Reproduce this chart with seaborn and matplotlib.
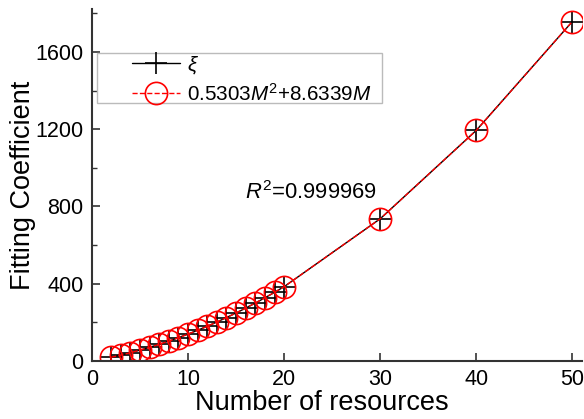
import matplotlib
matplotlib.use("Agg")
import matplotlib.pyplot as plt
import seaborn as sns
import pandas as pd
from matplotlib.ticker import MultipleLocator
from matplotlib.patches import Rectangle

# Data
resources = [2, 3, 4, 5, 6, 7, 8, 9, 10, 11, 12, 13, 14, 15, 16, 17, 18, 19, 20, 30, 40, 50]
xi_values = [19.4, 30.7, 43.0, 56.4, 70.9, 86.4, 103.0, 120.7, 139.4, 159.1, 180.0,
             201.9, 224.8, 248.8, 273.9, 300.0, 327.2, 355.5, 384.8, 736.3, 1194.0, 1757.4]
fit_values = [19.4, 30.7, 43.0, 56.4, 70.9, 86.4, 103.0, 120.7, 139.4, 159.1, 180.0,
              201.9, 224.8, 248.8, 273.9, 300.0, 327.2, 355.5, 384.8, 736.3, 1193.9, 1757.4]
xi_label = r"$\xi$"
fit_label = r"0.5303$M^2$+8.6339$M$"
r2_text = r"$R^2$=0.999969"
x_ticks = [0, 10, 20, 30, 40, 50]
y_ticks = [0, 400, 800, 1200, 1600]

sns.set_theme(style="ticks")
plt.rcParams['font.family'] = ['Liberation Sans', 'DejaVu Sans']
plt.rcParams['mathtext.fontset'] = 'custom'
plt.rcParams['mathtext.rm'] = 'Liberation Sans'
plt.rcParams['mathtext.it'] = 'Liberation Sans:italic'
plt.rcParams['text.color'] = 'black'
plt.rcParams['axes.labelcolor'] = 'black'

df = pd.DataFrame({"M": resources, "xi": xi_values, "fit": fit_values})

fig = plt.figure(figsize=(5.84, 4.19), dpi=100)
ax = fig.add_axes([0.1575, 0.1384, 0.839, 0.840])

sns.lineplot(data=df, x="M", y="xi", ax=ax, color="black", linewidth=1.0,
             marker="+", markersize=16, markeredgewidth=1.2, markeredgecolor="black",
             label=xi_label)
sns.lineplot(data=df, x="M", y="fit", ax=ax, color="red", linewidth=1.0,
             linestyle="--", marker="o", markersize=16, markerfacecolor="none",
             markeredgecolor="red", markeredgewidth=1.2, label=fit_label)

ax.set_xlim(0, 51.0)
ax.set_ylim(0, 1822)
ax.set_xticks(x_ticks)
ax.set_yticks(y_ticks)
ax.yaxis.set_minor_locator(MultipleLocator(200))
ax.tick_params(axis="both", which="major", direction="in", length=6, width=1.2,
               labelsize=15.5, colors="#333333", labelcolor="black", pad=6)
ax.tick_params(axis="y", which="minor", direction="in", length=3.5, width=1.0, colors="#333333")

for s in ["top", "right"]:
    ax.spines[s].set_visible(False)
for s in ["left", "bottom"]:
    ax.spines[s].set_color("#333333")
    ax.spines[s].set_linewidth(1.5)

ax.set_xlabel("Number of resources", fontsize=19.5, color="black")
ax.xaxis.set_label_coords(0.469, -0.082)
ax.set_ylabel("Fitting Coefficient", fontsize=19.5, labelpad=0, color="black")

ax.text(15.9, 870, r2_text, fontsize=15.8, ha="left", va="center", color="black")

# legend frame
ax.add_patch(Rectangle((0.0102, 0.733), 0.5816, 0.142, transform=ax.transAxes,
                       facecolor="white", edgecolor="#bbbbbb", linewidth=1.0, zorder=4))
leg = ax.legend(loc="center left", bbox_to_anchor=(0.0816, 0.801), fontsize=14.9,
                frameon=False, handlelength=2.33, borderpad=0, borderaxespad=0,
                labelspacing=0.35, handletextpad=0.34)
leg.set_zorder(5)
for t in leg.get_texts():
    t.set_color("black")

fig.savefig("out.png", dpi=100)
